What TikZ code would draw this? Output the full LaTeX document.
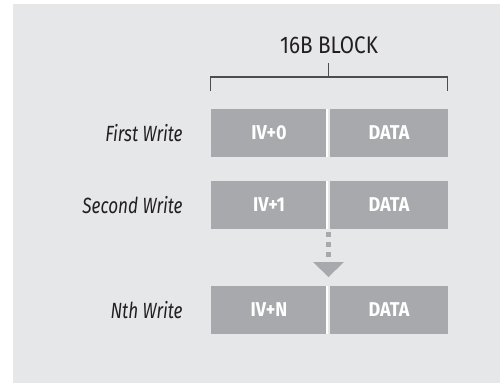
\documentclass[tikz,border=0pt]{standalone}
\usepackage{fontspec}
\setmainfont{Fira Sans}[FakeStretch=0.78]
\newfontfamily\titlefont{Fira Sans}[FakeStretch=0.86]
\newfontfamily\cellfont{Fira Sans}[FakeStretch=0.9]
\usetikzlibrary{positioning}
\definecolor{panel}{HTML}{E6E7E8}
\definecolor{cellgray}{HTML}{A7A9AC}
\definecolor{ink}{HTML}{231F20}
\definecolor{rule}{HTML}{4D4D4F}
\begin{document}
\begin{tikzpicture}[x=1pt,y=-1pt]

      \useasboundingbox (0,0) rectangle (500,383);
      \fill[panel] (13,4) rectangle (500,383);

      \begin{scope}[every node/.style={fill=cellgray, text=white, font=\cellfont\bfseries\fontsize{20}{20}\selectfont,
          minimum height=48pt, inner sep=0pt}]
        \node[minimum width=116pt] (iv1)   at (269,133) {IV+0};
        \node[minimum width=118pt] (data1) at (389,133) {DATA};
        \node[minimum width=116pt] (iv2)   at (269,205) {IV+1};
        \node[minimum width=118pt] (data2) at (389,205) {DATA};
        \node[minimum width=116pt] (ivn)   at (269,310) {IV+N};
        \node[minimum width=118pt] (datan) at (389,310) {DATA};
      \end{scope}

      % white split between the two halves
      \begin{scope}[every path/.style={draw=white, line width=2.5pt}]
        \path (iv1.north east) -- (iv1.south east);
        \path (iv2.north east) -- (iv2.south east);
        \path (ivn.north east) -- (ivn.south east);
      \end{scope}

      \begin{scope}[every node/.style={text=ink, font=\itshape\fontsize{22}{22}\selectfont, inner sep=0pt}]
        \node[left=28pt of iv1] (first)  {First Write};
        \node[left=28pt of iv2] (second) {Second Write};
        \node[left=28pt of ivn] (nth)    {Nth Write};
      \end{scope}

      \node[text=ink, font=\titlefont\fontsize{24}{24}\selectfont, inner sep=0pt] (block) at (329,45) {16B BLOCK};

      \coordinate (tick) at (328.5,63);
      \coordinate (mid)  at (328.5,77);
      \coordinate (bl)   at (210.5,91);
      \coordinate (br)   at (447.5,91);
      \draw[rule, line width=1.3pt] (bl) |- (mid) -| (br);
      \draw[rule, line width=1.3pt] (tick) -- (mid);

      \coordinate (dtop) at (328.5,232);
      \coordinate (dend) at (328.5,258);
      \draw[cellgray, line width=4.5pt, dash pattern=on 4.5pt off 5.5pt] (dtop) -- (dend);
      \fill[cellgray] (313,262) -- (344,262) -- (328.5,277) -- cycle;

    \end{tikzpicture}
\end{document}
